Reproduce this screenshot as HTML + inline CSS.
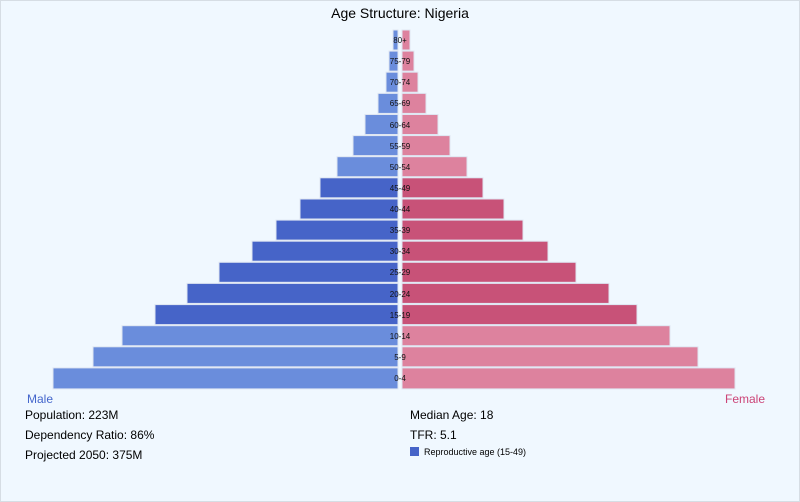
<!DOCTYPE html>
<html><head><meta charset="utf-8"><style>
html,body{margin:0;padding:0;background:#fff}
svg{display:block}
text{font-family:"Liberation Sans",sans-serif}
</style></head><body>
<svg width="800" height="502" viewBox="0 0 800 502" xmlns="http://www.w3.org/2000/svg">
<rect x="0.5" y="0.5" width="799" height="501" fill="#f0f8ff" stroke="#d6dde4"/>
<text x="400" y="18" font-size="14" text-anchor="middle" fill="#000">Age Structure: Nigeria</text>
<g stroke="#dfe6f2" stroke-width="1">
<rect x="393" y="30" width="5" height="20" fill="#6a8ddc"/><rect x="402" y="30" width="8" height="20" fill="#dd829e"/>
<rect x="389" y="51.1" width="9" height="20" fill="#6a8ddc"/><rect x="402" y="51.1" width="12" height="20" fill="#dd829e"/>
<rect x="386" y="72.2" width="12" height="20" fill="#6a8ddc"/><rect x="402" y="72.2" width="16" height="20" fill="#dd829e"/>
<rect x="378" y="93.4" width="20" height="20" fill="#6a8ddc"/><rect x="402" y="93.4" width="24" height="20" fill="#dd829e"/>
<rect x="365" y="114.5" width="33" height="20" fill="#6a8ddc"/><rect x="402" y="114.5" width="36" height="20" fill="#dd829e"/>
<rect x="353" y="135.6" width="45" height="20" fill="#6a8ddc"/><rect x="402" y="135.6" width="48" height="20" fill="#dd829e"/>
<rect x="337" y="156.7" width="61" height="20" fill="#6a8ddc"/><rect x="402" y="156.7" width="65" height="20" fill="#dd829e"/>
<rect x="320" y="177.8" width="78" height="20" fill="#4664c8"/><rect x="402" y="177.8" width="81" height="20" fill="#c85278"/>
<rect x="300" y="199" width="98" height="20" fill="#4664c8"/><rect x="402" y="199" width="102" height="20" fill="#c85278"/>
<rect x="276" y="220.1" width="122" height="20" fill="#4664c8"/><rect x="402" y="220.1" width="121" height="20" fill="#c85278"/>
<rect x="252" y="241.2" width="146" height="20" fill="#4664c8"/><rect x="402" y="241.2" width="146" height="20" fill="#c85278"/>
<rect x="219" y="262.3" width="179" height="20" fill="#4664c8"/><rect x="402" y="262.3" width="174" height="20" fill="#c85278"/>
<rect x="187" y="283.4" width="211" height="20" fill="#4664c8"/><rect x="402" y="283.4" width="207" height="20" fill="#c85278"/>
<rect x="155" y="304.6" width="243" height="20" fill="#4664c8"/><rect x="402" y="304.6" width="235" height="20" fill="#c85278"/>
<rect x="122" y="325.7" width="276" height="20" fill="#6a8ddc"/><rect x="402" y="325.7" width="268" height="20" fill="#dd829e"/>
<rect x="93" y="346.8" width="305" height="20" fill="#6a8ddc"/><rect x="402" y="346.8" width="296" height="20" fill="#dd829e"/>
<rect x="53" y="367.9" width="345" height="21" fill="#6a8ddc"/><rect x="402" y="367.9" width="333" height="21" fill="#dd829e"/>
</g>
<g font-size="8" text-anchor="middle" fill="#111">
<text x="400" y="43">80+</text><text x="400" y="64">75-79</text><text x="400" y="85">70-74</text>
<text x="400" y="106">65-69</text><text x="400" y="128">60-64</text><text x="400" y="149">55-59</text>
<text x="400" y="170">50-54</text><text x="400" y="191">45-49</text><text x="400" y="212">40-44</text>
<text x="400" y="233">35-39</text><text x="400" y="254">30-34</text><text x="400" y="275">25-29</text>
<text x="400" y="297">20-24</text><text x="400" y="318">15-19</text><text x="400" y="339">10-14</text>
<text x="400" y="360">5-9</text><text x="400" y="381">0-4</text>
</g>
<text x="27" y="403" font-size="12" fill="#4466cc">Male</text>
<text x="765" y="403" font-size="12" fill="#cc4477" text-anchor="end">Female</text>
<g font-size="12" fill="#000">
<text x="25" y="419">Population: 223M</text>
<text x="25" y="439">Dependency Ratio: 86%</text>
<text x="25" y="459">Projected 2050: 375M</text>
<text x="410" y="419">Median Age: 18</text>
<text x="410" y="439">TFR: 5.1</text>
</g>
<rect x="410" y="447" width="9" height="9" fill="#4664c8"/>
<text x="424" y="455" font-size="9" fill="#000">Reproductive age (15-49)</text>
</svg>
</body></html>
